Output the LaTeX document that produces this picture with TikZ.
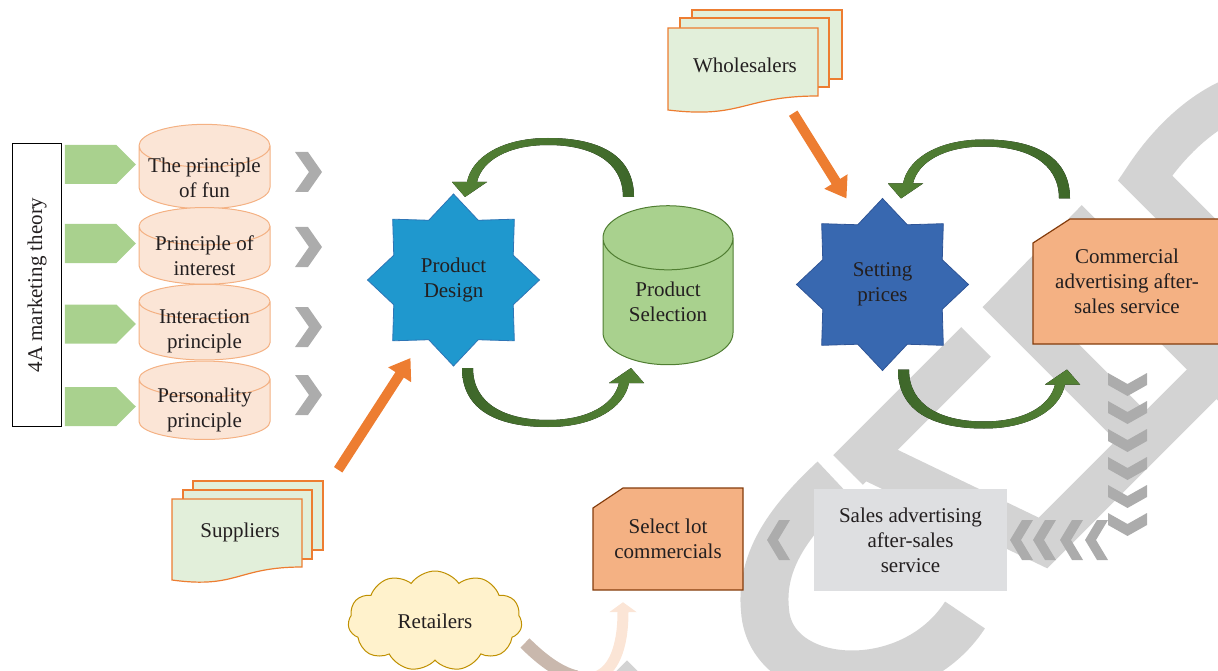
\documentclass[tikz,border=0pt]{standalone}
\usepackage{fontspec}
\setmainfont{Liberation Serif}
\usetikzlibrary{shapes.geometric, shapes.symbols, arrows.meta, calc}

\definecolor{ink}{RGB}{35,31,32}
\definecolor{markgray}{RGB}{211,211,211}
\definecolor{chevgray}{RGB}{172,172,172}
\definecolor{leafgreen}{RGB}{169,209,142}
\definecolor{darkleaf}{RGB}{80,126,50}
\definecolor{peachfill}{RGB}{251,229,214}
\definecolor{peachline}{RGB}{244,177,131}
\definecolor{designblue}{RGB}{31,152,206}
\definecolor{designedge}{RGB}{46,117,182}
\definecolor{priceblue}{RGB}{56,104,176}
\definecolor{priceedge}{RGB}{47,85,151}
\definecolor{salmon}{RGB}{244,177,131}
\definecolor{rust}{RGB}{132,60,12}
\definecolor{sheetfill}{RGB}{226,239,218}
\definecolor{sheetline}{RGB}{237,125,49}
\definecolor{loopdark}{RGB}{62,103,42}
\definecolor{looplight}{RGB}{84,130,53}
\definecolor{cloudfill}{RGB}{255,242,204}
\definecolor{cloudline}{RGB}{191,144,0}
\definecolor{salesgray}{RGB}{222,223,225}
\definecolor{fadebrown}{RGB}{201,184,173}
\definecolor{fadepeach}{RGB}{251,229,214}

\begin{document}
\begin{tikzpicture}[
    x=1pt, y=-1pt,
    font=\fontsize{21}{25}\selectfont,
    text=ink,
    box/.style={align=center, inner sep=0pt},
    wm/.style={draw=markgray, line width=42pt, line join=miter},
    chev/.style={fill=chevgray},
    tab/.style={signal, signal to=east, signal pointer angle=90, fill=leafgreen, minimum width=71pt, minimum height=39pt, inner sep=0pt},
    principle/.style={cylinder, shape border rotate=90, aspect=0.38, draw=peachline, fill=peachfill, line width=1pt, minimum width=131pt, minimum height=75pt, align=center, inner xsep=0pt, inner ysep=-10pt},
    drum/.style={cylinder, shape border rotate=90, aspect=0.82, draw=darkleaf, fill=leafgreen, line width=1pt, minimum width=130pt, minimum height=159pt, align=center, inner sep=0pt},
    burst/.style={star, star points=8, star point ratio=1.33, minimum size=172pt, inner sep=0pt, align=center, line width=0.8pt},
    snip/.style={fill=salmon, draw=rust, line width=1.2pt},
    sheet/.style={fill=sheetfill, draw=sheetline, line width=1.2pt},
    feed/.style={draw=sheetline, line width=10pt, -{Triangle[width=26pt,length=20pt]}},
    fadehead/.style={draw=fadepeach, line width=11pt, -{Triangle[width=27pt,length=10pt]}},
    fadetail/.style={draw=fadebrown, line width=13pt}
]
\useasboundingbox (0,0) rectangle (1218,671);

% grey mark behind everything
\begin{scope}
\clip (0,0) rectangle (1218,671);
\draw[wm] (1260,90) .. controls (1210,100) and (1170,140) .. (1145,178) -- (1260,293);
\draw[wm] (1260,413) -- (1082,235) -- (1012,307) -- (1150,445);
\draw[wm] (976,342) -- (848,470);
\draw[wm] (862,456) -- (1043,543) -- (1260,326);
\draw[wm, line width=48pt] (834,479) .. controls (790,520) and (760,560) .. (765,610) .. controls (770,690) and (910,700) .. (965,615);
\draw[wm] (577,740) -- (627,690) -- (677,740);
\end{scope}

% chevrons
\foreach \y in {172,247,327,395}
  \fill[chev] (295,\y-20) -- (308,\y-20) -- (322,\y) -- (308,\y+20) -- (295,\y+20) -- (309,\y) -- cycle;
\foreach \x in {767,1010,1033,1060,1085}
  \fill[chev] (\x,540) -- (\x+12,520) -- (\x+23,520) -- (\x+11,540) -- (\x+23,560) -- (\x+12,560) -- cycle;
\foreach \y in {373,401,429,457,485,513}
  \fill[chev] (1108,\y) -- (1127.5,\y+11) -- (1147,\y) -- (1147,\y+12) -- (1127.5,\y+23) -- (1108,\y+12) -- cycle;

% 4A theory
\node[draw=black, line width=1.3pt, fill=white, minimum width=283pt, minimum height=49pt, inner sep=0pt, rotate=90] (theory) at (37,285) {4A marketing theory};
\foreach \y [count=\i] in {164.5,243.5,324,406.5}
  \node[tab] (tab\i) at (90.5,\y) {};
\node[principle] (fun) at (204.5,177.5) {The principle\\of fun};
\node[principle] (interest) at (204.5,255.5) {Principle of\\interest};
\node[principle] (interact) at (204.5,331) {Interaction\\principle};
\node[principle] (person) at (204.5,409.5) {Personality\\principle};

% main loop
\node[burst, fill=designblue, draw=designedge] (design) at (453.5,280) {Product\\Design};
\node[drum] (sel) at (668,301.5) {Product\\Selection};
\node[burst, fill=priceblue, draw=priceedge] (price) at (882.5,284.5) {Setting\\prices};
\filldraw[snip] (1033,344) -- (1033,243) -- (1070,219) -- (1222,219) -- (1222,344) -- cycle;
\node[box, minimum width=188pt, minimum height=125pt] (adv) at (1127,281.5) {Commercial\\advertising after-\\sales service};
\filldraw[snip] (593,590) -- (593,508) -- (623,488) -- (743,488) -- (743,590) -- cycle;
\node[box, minimum width=150pt, minimum height=102pt] (lot) at (668,539) {Select lot\\commercials};
\node[box, fill=salesgray, minimum width=193pt, minimum height=102pt] (sales) at (910.5,540) {Sales advertising\\after-sales\\service};
\node[cloud, cloud puffs=11, cloud puff arc=110, aspect=1.7, draw=cloudline, fill=cloudfill, line width=1pt, minimum width=174pt, minimum height=100pt, inner sep=0pt] (retail) at (435,621) {Retailers};

% document stacks
\filldraw[sheet] (193,481) rectangle (323,550);
\filldraw[sheet] (183,490) rectangle (312,559);
\filldraw[sheet] (172,499) -- (302,499) -- (302,567) .. controls (237,567) and (237,589) .. (172,580) -- cycle;
\node[box, minimum width=124pt, minimum height=66pt] (supp) at (240,532) {Suppliers};
\filldraw[sheet] (692,10) rectangle (842,79);
\filldraw[sheet] (680,18) rectangle (829,87);
\filldraw[sheet] (668,28) -- (818,28) -- (818,96) .. controls (743,96) and (743,119) .. (668,110) -- cycle;
\node[box, minimum width=146pt, minimum height=62pt] (whole) at (745,65) {Wholesalers};

% feeding arrows
\draw[feed] ([shift={(36,-29)}]supp.north east) -- ([shift={(-43,78)}]design.center);
\draw[feed] ([shift={(-25,17)}]whole.south east) -- ([shift={(-36,-86)}]price.center);

\draw[fadehead] ([shift={(90,22)}]retail.center) to[out=-45, in=-90, looseness=2] ([shift={(-45,12)}]lot.south);
\begin{scope}
\clip (0,0) rectangle (578,671);
\draw[fadetail] ([shift={(90,22)}]retail.center) to[out=-45, in=-90, looseness=2] ([shift={(-45,12)}]lot.south);
\end{scope}

% curved loop arrows
\coordinate (loopL) at ([shift={(94.5,2.5)}]design.center);
\coordinate (loopR) at ([shift={(101.5,-0.5)}]price.center);
\foreach \c in {loopL, loopR} {
  \begin{scope}[shift={(\c)}]
    \fill[left color=looplight, right color=loopdark]
      (86,-85.5) .. controls (86,-128) and (50,-144.5) .. (0,-144.5)
      .. controls (-45,-144.5) and (-76,-126) .. (-81,-100.5)
      -- (-96,-100.5) -- (-83,-85.5) -- (-61,-100.5) -- (-71,-100.5)
      .. controls (-66,-122) and (-40,-137.5) .. (0,-137.5)
      .. controls (42,-137.5) and (75,-122) .. (75,-85.5) -- cycle;
    \fill[left color=loopdark, right color=looplight]
      (-86,85.5) .. controls (-86,128) and (-50,144.5) .. (0,144.5)
      .. controls (45,144.5) and (76,126) .. (81,100.5)
      -- (96,100.5) -- (83,85.5) -- (61,100.5) -- (71,100.5)
      .. controls (66,122) and (40,137.5) .. (0,137.5)
      .. controls (-42,137.5) and (-75,122) .. (-75,85.5) -- cycle;
  \end{scope}
}
\end{tikzpicture}
\end{document}
